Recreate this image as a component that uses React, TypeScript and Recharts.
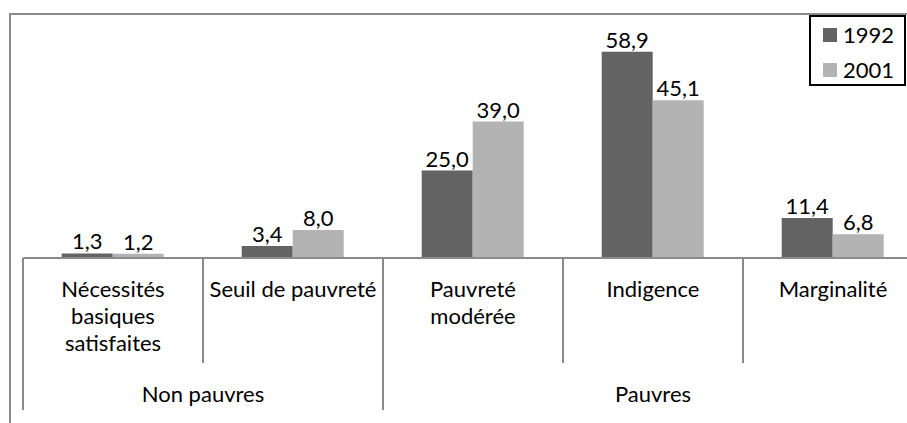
import React from "react";
import { BarChart, Bar, XAxis, YAxis, Legend, LabelList } from "recharts";

const categories = [
  ["Nécessités", "basiques", "satisfaites"],
  ["Seuil de pauvreté"],
  ["Pauvreté", "modérée"],
  ["Indigence"],
  ["Marginalité"],
];
const groups = ["Non pauvres", "Pauvres"];
const groupOf = [0, 0, 1, 1, 1];
const seriesNames = ["1992", "2001"];
const values1992 = [1.3, 3.4, 25.0, 58.9, 11.4];
const values2001 = [1.2, 8.0, 39.0, 45.1, 6.8];
const colors = ["#636363", "#b3b3b3"];

const W = 930;
const H = 423;
const margin = { top: 13, right: 7, left: 23, bottom: 0 };
const band = (W - margin.left - margin.right) / categories.length;
const FONT = "Lato, 'Open Sans', sans-serif";
const FS = 22;
const LINE = "#8a8a8a";

const chartData = categories.map((lines, i) => ({
  name: lines.join(" "),
  s0: values1992[i],
  s1: values2001[i],
}));

const fmt = (v: any) => Number(v).toFixed(1).replace(".", ",");

const CategoryTick = (props: any) => {
  const { x, y, index } = props;
  const left = x - band / 2;
  const g = groupOf[index];
  const groupStart = index === 0 || groupOf[index - 1] !== g;
  const size = groupOf.filter((k) => k === g).length;
  const lines = categories[index];
  return (
    <g>
      <line x1={left} x2={left} y1={y} y2={y + (groupStart ? 152 : 105)} stroke={LINE} strokeWidth={2} />
      {index === categories.length - 1 && (
        <line x1={x + band / 2} x2={x + band / 2} y1={y} y2={y + 152} stroke={LINE} strokeWidth={2} />
      )}
      <text textAnchor="middle" fontSize={FS} fill="#000" fontFamily={FONT}>
        {lines.map((l, i) => (
          <tspan key={i} x={x} y={y + 39 + i * 27}>
            {l}
          </tspan>
        ))}
      </text>
      {groupStart && (
        <text x={left + (size * band) / 2} y={y + 144} textAnchor="middle" fontSize={FS} fill="#000" fontFamily={FONT}>
          {groups[g]}
        </text>
      )}
    </g>
  );
};

const renderLegend = (props: any) => {
  const items = props.payload || [];
  return (
    <div
      style={{
        border: "2px solid #000",
        boxSizing: "border-box",
        width: 97,
        height: 71,
        padding: "0 0 0 12px",
        fontFamily: FONT,
        fontSize: FS,
        color: "#000",
      }}
    >
      {items.map((it: any, i: number) => (
        <div key={i} style={{ display: "flex", alignItems: "center", height: 35 }}>
          <span style={{ display: "inline-block", width: 14, height: 14, background: it.color, marginRight: 6 }} />
          <span>{it.value}</span>
        </div>
      ))}
    </div>
  );
};

export default function App() {
  return (
    <div style={{ position: "absolute", left: 0, top: 0, width: 907, height: 423, overflow: "hidden", background: "#fff" }}>
      <div
        style={{
          position: "absolute",
          left: 9,
          top: 13,
          width: 910,
          height: 420,
          borderLeft: `2px solid ${LINE}`,
          borderTop: `2px solid ${LINE}`,
        }}
      />
      <div style={{ position: "absolute", left: 0, top: 0 }}>
        <BarChart width={W} height={H} data={chartData} margin={margin} barCategoryGap="21.5%" barGap={0}>
          <XAxis
            dataKey="name"
            height={H - 258}
            axisLine={{ stroke: LINE, strokeWidth: 2 }}
            tickLine={false}
            tickSize={0}
            tickMargin={0}
            interval={0}
            tick={<CategoryTick />}
          />
          <YAxis hide domain={[0, 70]} />
          <Legend
            layout="vertical"
            align="center"
            verticalAlign="middle"
            wrapperStyle={{ top: 15, left: 809, width: 97, height: 71 }}
            content={renderLegend}
          />
          <Bar dataKey="s0" name={seriesNames[0]} fill={colors[0]} isAnimationActive={false}>
            <LabelList dataKey="s0" position="top" offset={4} formatter={fmt} fill="#000" fontSize={FS} fontFamily={FONT} />
          </Bar>
          <Bar dataKey="s1" name={seriesNames[1]} fill={colors[1]} isAnimationActive={false}>
            <LabelList dataKey="s1" position="top" offset={4} formatter={fmt} fill="#000" fontSize={FS} fontFamily={FONT} />
          </Bar>
        </BarChart>
      </div>
    </div>
  );
}
